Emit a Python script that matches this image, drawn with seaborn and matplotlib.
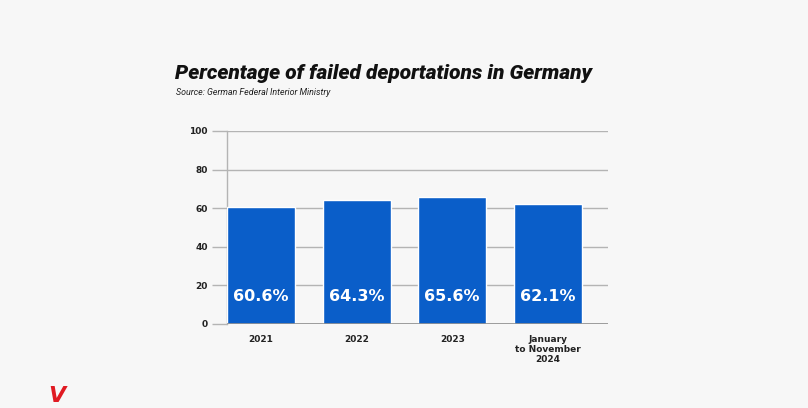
import matplotlib
matplotlib.use("Agg")
import matplotlib.pyplot as plt
import seaborn as sns
import pandas as pd

# Data
periods = ["2021", "2022", "2023", "January\nto November\n2024"]
failed_pct = [60.6, 64.3, 65.6, 62.1]
y_ticks = [0, 20, 40, 60, 80, 100]

df = pd.DataFrame({"period": periods, "pct": failed_pct})

sns.set_theme(style="white")
plt.rcParams["font.family"] = ["DejaVu Sans"]

fig = plt.figure(figsize=(8.08, 4.08), dpi=100)
fig.patch.set_facecolor("#f7f7f7")
ax = fig.add_axes([0.281, 0.206, 0.471, 0.473])
ax.set_facecolor("#f7f7f7")

sns.barplot(data=df, x="period", y="pct", color="#0a5ec9", width=0.71,
            saturation=1, ax=ax, zorder=3)

ax.set_ylim(0, 100)
ax.set_xlim(-0.355, 3.625)
ax.set_yticks(y_ticks)
ax.set_yticklabels([str(t) for t in y_ticks], fontsize=6.5, fontweight="bold", color="#222222")
ax.set_xticks(range(len(periods)))
ax.set_xticklabels(periods, fontsize=6.5, fontweight="bold", color="#222222", linespacing=1.15)
ax.set_xlabel("")
ax.set_ylabel("")

ax.yaxis.grid(True, color="#b4b4b4", linewidth=1.0, zorder=0)
ax.tick_params(axis="y", left=True, length=11, color="#b4b4b4", width=1.0, pad=3)
ax.tick_params(axis="x", bottom=False, length=0, pad=8)
for side in ["top", "right", "bottom"]:
    ax.spines[side].set_visible(False)
ax.spines["left"].set_color("#b4b4b4")
ax.spines["left"].set_linewidth(1.0)
ax.axhline(0, color="#909090", linewidth=1.2, zorder=4)

# value labels inside bars
for i, v in enumerate(failed_pct):
    ax.text(i, 14, f"{v}%", ha="center", va="center", color="white",
            fontsize=11.5, fontweight="bold", zorder=5)

# title and source
fig.text(0.217, 0.82, "Percentage of failed deportations in Germany",
         fontsize=15, fontweight="black", fontstyle="italic", color="#111111",
         family=["Roboto", "DejaVu Sans"], va="center")
fig.text(0.218, 0.773, "Source: German Federal Interior Ministry",
         fontsize=6.4, fontstyle="italic", color="#222222",
         family=["Roboto", "DejaVu Sans"], va="center")

# logo mark
fig.text(0.07, 0.03, "V", fontsize=16, fontweight="heavy", fontstyle="italic",
         color="#e01a22", ha="center", va="center")

fig.savefig("out.png", dpi=100, facecolor=fig.get_facecolor())
